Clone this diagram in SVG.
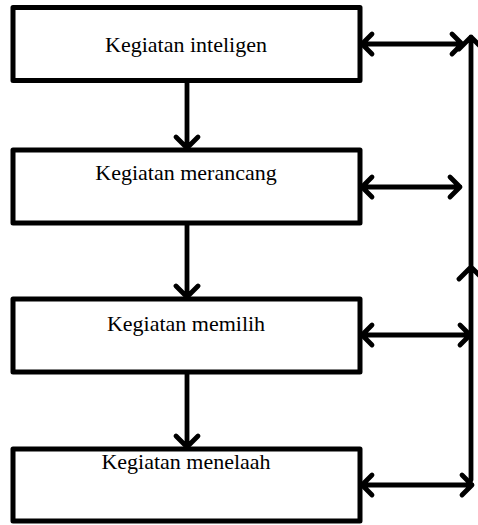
<svg xmlns="http://www.w3.org/2000/svg" width="478" height="525" viewBox="0 0 478 525">
<style>
.box{fill:#fff;stroke:#000;stroke-width:5;stroke-linejoin:round}
.t{font-family:"Liberation Serif","Times New Roman",serif;font-size:22px;fill:#000;text-anchor:middle}
.c{fill:none;stroke:#000;stroke-width:4.8;stroke-linecap:round;stroke-linejoin:round}
</style>
<rect width="478" height="525" fill="#fff"/>
<g id="connectors">
<path class="c" d="M187 80 V148 M176 137 L187 148 L198 137"/>
<path class="c" d="M187 224 V297 M176 286 L187 297 L198 286"/>
<path class="c" d="M187 372 V447 M176 436 L187 447 L198 436"/>
<path class="c" d="M471 37 V480 M459 49 L471 37 L483 49 M459 279 L471 267 L483 279"/>
<path class="c" d="M362 44 H462 M372 34 L362 44 L372 54 M452 34 L462 44 L452 54"/>
<path class="c" d="M362 187 H460 M372 177 L362 187 L372 197 M450 177 L460 187 L450 197"/>
<path class="c" d="M362 335 H470 M372 325 L362 335 L372 345 M460 325 L470 335 L460 345"/>
<path class="c" d="M362 485 H472 M372 475 L362 485 L372 495 M462 475 L472 485 L462 495"/>
</g>
<g id="n1"><rect class="box" x="13" y="7.5" width="347" height="73"/><text class="t" x="186" y="52">Kegiatan inteligen</text></g>
<g id="n2"><rect class="box" x="13" y="150" width="347" height="73"/><text class="t" x="186" y="180">Kegiatan merancang</text></g>
<g id="n3"><rect class="box" x="13" y="299" width="347" height="73"/><text class="t" x="186" y="331">Kegiatan memilih</text></g>
<g id="n4"><rect class="box" x="13" y="449" width="347" height="72"/><text class="t" x="186" y="469">Kegiatan menelaah</text></g>
</svg>
